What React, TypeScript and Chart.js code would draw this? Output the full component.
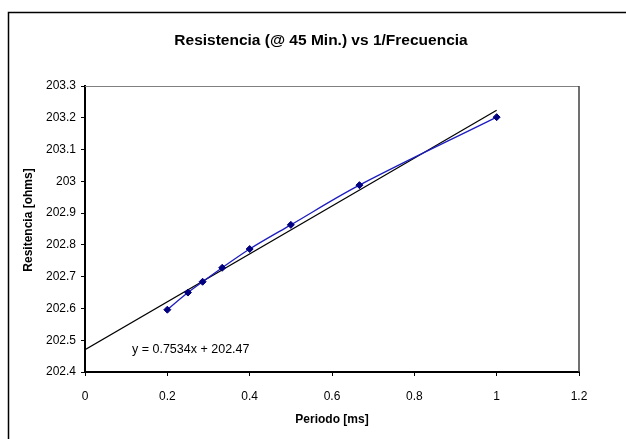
import React, { useEffect, useRef } from "react";
import { Chart, registerables } from "chart.js";

Chart.register(...registerables);

const periodMs = [0.2, 0.25, 0.2857, 0.3333, 0.4, 0.5, 0.6667, 1.0];
const resistance = [202.596, 202.65, 202.684, 202.728, 202.787, 202.863, 202.988, 203.202];
const trendX = [0, 1.0];
const trendY = [202.47, 203.2234];
const xTicks = [0, 0.2, 0.4, 0.6, 0.8, 1, 1.2];
const yTicks = [202.4, 202.5, 202.6, 202.7, 202.8, 202.9, 203, 203.1, 203.2, 203.3];
const titleText = "Resistencia (@ 45 Min.) vs 1/Frecuencia";
const xTitle = "Periodo [ms]";
const yTitle = "Resitencia [ohms]";
const equation = "y = 0.7534x + 202.47";

const FONT = "'Liberation Sans', Arial, Helvetica, sans-serif";

const framePlugin = {
  id: "frame",
  beforeDraw(chart: any) {
    const ctx = chart.ctx;
    ctx.save();
    ctx.fillStyle = "#ffffff";
    ctx.fillRect(0, 0, chart.width, chart.height);
    ctx.strokeStyle = "#000000";
    ctx.lineWidth = 1.5;
    ctx.strokeRect(8.5, 12.5, 800, 600);
    ctx.restore();
  },
  afterDraw(chart: any) {
    const { ctx, chartArea } = chart;
    ctx.save();
    ctx.strokeStyle = "#808080";
    ctx.lineWidth = 1;
    ctx.beginPath();
    ctx.moveTo(chartArea.left, chartArea.top + 0.5);
    ctx.lineTo(chartArea.right, chartArea.top + 0.5);
    ctx.stroke();
    ctx.strokeStyle = "#404040";
    ctx.lineWidth = 1.5;
    ctx.beginPath();
    ctx.moveTo(chartArea.right, chartArea.top);
    ctx.lineTo(chartArea.right, chartArea.bottom);
    ctx.stroke();

    ctx.fillStyle = "#000000";
    ctx.textBaseline = "middle";

    // chart title
    ctx.font = `bold 15.5px ${FONT}`;
    ctx.textAlign = "center";
    ctx.fillText(titleText, 321, 41);

    // y axis title
    ctx.save();
    ctx.translate(29, 220);
    ctx.rotate(-Math.PI / 2);
    ctx.font = `bold 12px ${FONT}`;
    ctx.textAlign = "center";
    ctx.fillText(yTitle, 0, 0);
    ctx.restore();

    // trendline equation
    ctx.font = `12.5px ${FONT}`;
    ctx.textAlign = "left";
    ctx.fillText(equation, chartArea.left + 47, chartArea.bottom - 22);
    ctx.restore();
  },
};

export default function App() {
  const ref = useRef<HTMLCanvasElement | null>(null);
  useEffect(() => {
    if (!ref.current) return;
    const chart = new Chart(ref.current, {
      type: "scatter",
      data: {
        datasets: [
          {
            label: "data",
            data: periodMs.map((x, i) => ({ x, y: resistance[i] })),
            showLine: true,
            borderColor: "#1c1cc0",
            borderWidth: 1.3,
            tension: 0.35,
            pointStyle: "rectRot",
            pointRadius: 3.5,
            pointBackgroundColor: "#000080",
            pointBorderColor: "#000080",
            pointBorderWidth: 1,
            order: 1,
          },
          {
            label: "trend",
            data: trendX.map((x, i) => ({ x, y: trendY[i] })),
            showLine: true,
            borderColor: "#000000",
            borderWidth: 1.2,
            pointRadius: 0,
            order: 2,
          },
        ],
      },
      options: {
        animation: false,
        responsive: false,
        devicePixelRatio: 1,
        layout: { padding: { left: 0, right: 47, top: 86, bottom: 0 } },
        plugins: {
          legend: { display: false },
          tooltip: { enabled: false },
          title: { display: false },
        },
        scales: {
          x: {
            type: "linear",
            min: 0,
            max: 1.2,
            afterBuildTicks: (s: any) => {
              s.ticks = xTicks.map((v) => ({ value: v }));
            },
            afterFit: (s: any) => {
              s.height = 67;
            },
            grid: { drawOnChartArea: false, drawTicks: true, tickLength: 4, color: "#000000" },
            border: { display: true, color: "#000000", width: 2 },
            ticks: {
              color: "#000000",
              font: { family: FONT, size: 12 },
              padding: 13.8,
              maxRotation: 0,
              callback: (v: any) => String(Number(Number(v).toFixed(1))),
            },
            title: {
              display: true,
              text: xTitle,
              color: "#000000",
              font: { family: FONT, size: 12, weight: "bold" },
              padding: { top: 0, bottom: 11.8 },
            },
          },
          y: {
            type: "linear",
            min: 202.4,
            max: 203.3,
            afterBuildTicks: (s: any) => {
              s.ticks = yTicks.map((v) => ({ value: v }));
            },
            afterFit: (s: any) => {
              s.width = 85;
            },
            grid: { drawOnChartArea: false, drawTicks: true, tickLength: 4, color: "#000000" },
            border: { display: true, color: "#000000", width: 2 },
            ticks: {
              color: "#000000",
              font: { family: FONT, size: 12 },
              padding: 5,
              callback: (v: any) => String(Number(Number(v).toFixed(1))),
            },
            title: { display: false },
          },
        },
      },
      plugins: [framePlugin],
    } as any);
    return () => chart.destroy();
  }, []);
  return (
    <div style={{ position: "absolute", left: 0, top: 0, width: 626, height: 439 }}>
      <canvas ref={ref} width={626} height={439} style={{ display: "block", width: 626, height: 439 }} />
    </div>
  );
}
